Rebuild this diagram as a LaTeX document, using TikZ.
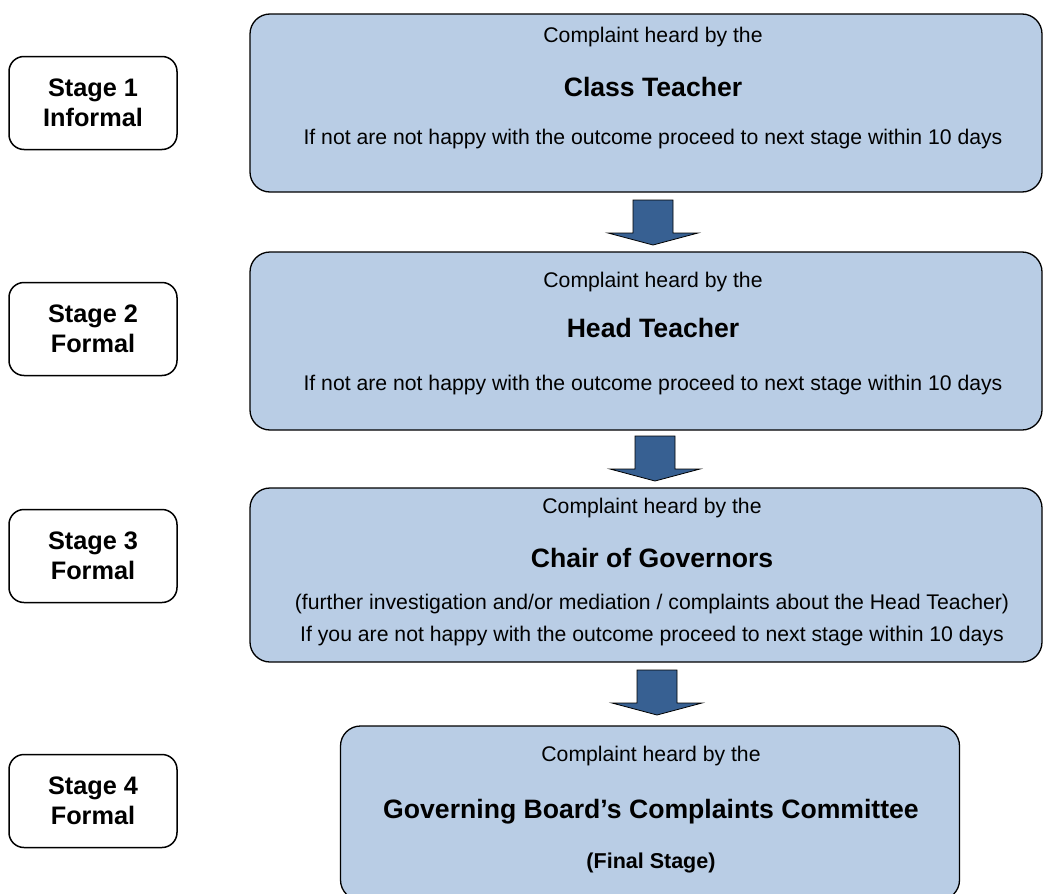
\documentclass[tikz,border=0pt]{standalone}
\usepackage{fontspec}
\setmainfont{Liberation Sans}
\usetikzlibrary{positioning}

\definecolor{boxFill}{HTML}{B9CDE5}
\definecolor{arrowFill}{HTML}{376092}

\begin{document}
\begin{tikzpicture}
[x=1pt,y=-1pt,
  stageDecorate/.style={shape=rectangle,rounded corners=15pt,draw,line width=1.5pt,
    minimum width=168pt,minimum height=93pt,align=center,
    font=\fontsize{25.3}{30}\selectfont\bfseries},%
  boxDecorate/.style={shape=rectangle,rounded corners=20pt,draw,line width=1.3pt,fill=boxFill},%
  plainText/.style={font=\fontsize{21.2}{26}\selectfont},%
  headText/.style={font=\fontsize{26.6}{32}\selectfont\bfseries},%
  arrowDecorate/.style={draw,fill=arrowFill,line width=0.8pt}]
\useasboundingbox (0,0) rectangle (1045,894);
\clip (0,0) rectangle (1045,894);
%% stage labels
\foreach \nodename/\num/\y/\kind in {s1/1/103/Informal, s2/2/329/Formal, s3/3/556/Formal, s4/4/801/Formal} {
  \node (\nodename) at (93,\y) [stageDecorate] {Stage \num\\\kind};
}
%% boxes
\node (b1) at (646,103) [boxDecorate,minimum width=792pt,minimum height=178pt] {};
\node (b2) at (646,341) [boxDecorate,minimum width=792pt,minimum height=178pt] {};
\node (b3) at (646,575) [boxDecorate,minimum width=792pt,minimum height=174pt] {};
\node (b4) at (650,813) [boxDecorate,minimum width=619pt,minimum height=174pt] {};
%% texts
\node (t11) at (653,37) [plainText] {Complaint heard by the};
\node (t12) at (653,87) [headText] {Class Teacher};
\node (t13) at (653,139) [plainText] {If not are not happy with the outcome proceed to next stage within 10 days};
\node (t21) at (653,282) [plainText] {Complaint heard by the};
\node (t22) at (653,328) [headText] {Head Teacher};
\node (t23) at (653,385) [plainText] {If not are not happy with the outcome proceed to next stage within 10 days};
\node (t31) at (652,508) [plainText] {Complaint heard by the};
\node (t32) at (652,558) [headText] {Chair of Governors};
\node (t33) at (652,604) [plainText] {(further investigation and/or mediation / complaints about the Head Teacher)};
\node (t34) at (652,636) [plainText] {If you are not happy with the outcome proceed to next stage within 10 days};
\node (t41) at (651,756) [plainText] {Complaint heard by the};
\node (t42) at (651,812) [headText] {Governing Board’s Complaints Committee};
\node (t43) at (651,863) [font=\fontsize{21.5}{26}\selectfont\bfseries] {(Final Stage)};
%% block arrows
\foreach \x/\y in {653/200, 655/436, 657/670} {
  \draw[arrowDecorate] (\x-20,\y) -- ++(40,0) -- ++(0,33) -- ++(25,0)
    -- ++(-45,12) -- ++(-45,-12) -- ++(25,0) -- cycle;
}
\end{tikzpicture}
\end{document}
